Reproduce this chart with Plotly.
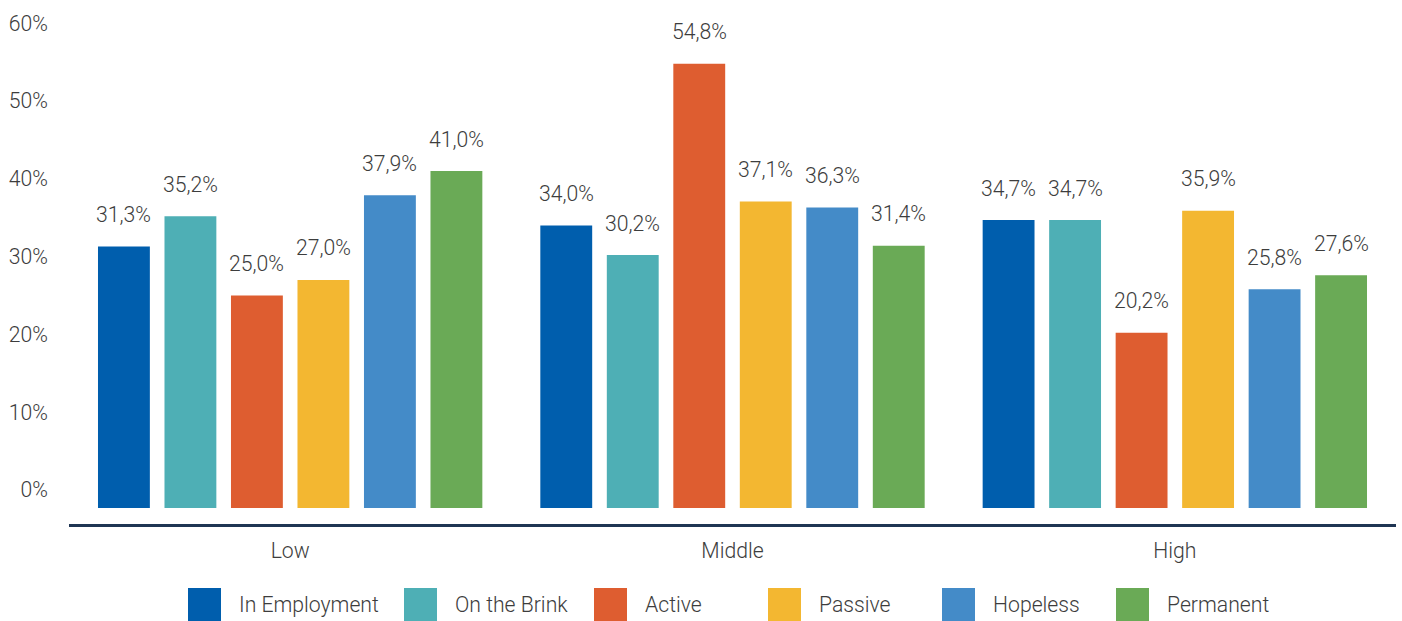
import plotly.graph_objects as go

# --- data -------------------------------------------------------------
categories = ["Low", "Middle", "High"]
series_names = ["In Employment", "On the Brink", "Active", "Passive", "Hopeless", "Permanent"]
in_employment = [31.3, 34.0, 34.7]
on_the_brink = [35.2, 30.2, 34.7]
active = [25.0, 54.8, 20.2]
passive = [27.0, 37.1, 35.9]
hopeless = [37.9, 36.3, 25.8]
permanent = [41.0, 31.4, 27.6]
y_tick_values = [0, 10, 20, 30, 40, 50, 60]
y_tick_labels = ["0%", "10%", "20%", "30%", "40%", "50%", "60%"]

series_values = [in_employment, on_the_brink, active, passive, hopeless, permanent]

# --- style ------------------------------------------------------------
colors = ["#005EAD", "#4EAFB5", "#DE5D30", "#F3B731", "#448BC8", "#6AAA56"]
TEXT_COLOR = "#3d3d3d"
AXIS_COLOR = "#1f3553"
FONT = dict(family="Roboto", size=21.2, color=TEXT_COLOR, weight=300)

W, H = 1402, 621
ML, MR, MT, MB = 69, 6, 10, 97
PLOT_W = W - ML - MR
PLOT_H = H - MT - MB
Y_RANGE = [-4.37, 61.7]
BAR_BASE = -2.3          # bars start slightly below the zero line
BARGAP = 0.098
BARGROUPGAP = 0.22
LABEL_LIFT = 32          # px between bar top and centre of its value label


def fmt(v):
    return f"{v:.1f}%".replace(".", ",")


fig = go.Figure()

for name, vals, col in zip(series_names, series_values, colors):
    fig.add_trace(go.Bar(
        name=name,
        x=categories,
        y=[v - BAR_BASE for v in vals],
        base=BAR_BASE,
        customdata=vals,
        marker=dict(color=col, line=dict(width=0)),
        hovertemplate="%{x}: %{customdata:.1f}%<extra>" + name + "</extra>",
        showlegend=False,
    ))

# value labels above every bar
n = len(series_names)
slot_px = PLOT_W / len(categories) * (1 - BARGAP) / n
annotations = []
for i, vals in enumerate(series_values):
    for cat, v in zip(categories, vals):
        annotations.append(dict(
            x=cat, y=v, xref="x", yref="y",
            text=fmt(v), showarrow=False,
            xanchor="center", yanchor="middle",
            xshift=(i - (n - 1) / 2) * slot_px, yshift=LABEL_LIFT,
            font=FONT,
        ))


# legend built from large colour squares and labels
def px_x(p):
    return (p - ML) / PLOT_W


def px_y(p):
    return (H - MB - p) / PLOT_H


legend_left = [188, 404, 594, 768, 942, 1116]
SQ = 33
SQ_TOP = 588
shapes = []
for name, col, left in zip(series_names, colors, legend_left):
    shapes.append(dict(
        type="rect", xref="paper", yref="paper",
        xsizemode="pixel", ysizemode="pixel",
        xanchor=px_x(left), yanchor=px_y(SQ_TOP),
        x0=0, x1=SQ, y0=-SQ, y1=0,
        fillcolor=col, line=dict(width=0),
    ))
    annotations.append(dict(
        x=px_x(left + SQ + 16), y=px_y(SQ_TOP + SQ / 2 + 0.5),
        xref="paper", yref="paper", text=name, showarrow=False,
        xanchor="left", yanchor="middle", font=FONT,
    ))

fig.update_layout(
    width=W, height=H,
    margin=dict(l=ML, r=MR, t=MT, b=MB),
    paper_bgcolor="white", plot_bgcolor="white",
    barmode="group", bargap=BARGAP, bargroupgap=BARGROUPGAP,
    font=FONT,
    showlegend=False,
    annotations=annotations,
    shapes=shapes,
    xaxis=dict(
        showline=True, linecolor=AXIS_COLOR, linewidth=3,
        ticks="", showgrid=False, zeroline=False,
        tickfont=FONT, ticklabelstandoff=6,
    ),
    yaxis=dict(
        range=Y_RANGE, tickvals=y_tick_values, ticktext=y_tick_labels,
        showgrid=False, zeroline=False, showline=False, ticks="",
        tickfont=FONT, ticklabelstandoff=20,
    ),
)

fig.write_html("out.html")
